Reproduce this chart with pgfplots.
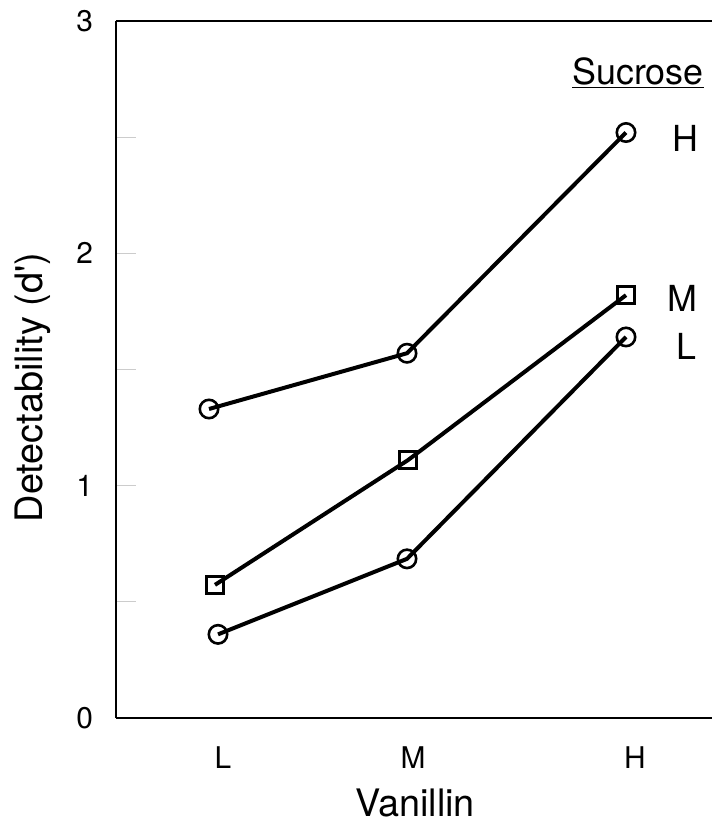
\documentclass[border=0pt]{standalone}
\usepackage{fontspec}
\setmainfont{TeX Gyre Heros}
\usepackage{pgfplots}
\pgfplotsset{compat=1.18}
\begin{document}
\fontsize{14.5}{17}\selectfont
\begin{tikzpicture}
\begin{axis}[
  scale only axis, width=298bp, height=348.5bp,
  xmin=116, xmax=712, ymin=0, ymax=3,
  axis lines=left,
  axis line style={-, line width=1.2bp, black},
  clip=false,
  /pgf/number format/assume math mode=true,
  ytick={0,1,2,3}, minor ytick={0.5,1.5,2.5},
  ytick align=inside,
  major tick length=10bp, minor tick length=10bp,
  ytick style={draw=black!20, line width=0.6bp},
  minor tick style={draw=black!20, line width=0.6bp},
  xtick={223,413,635}, xticklabels={L,M,H},
  xtick style={draw=none},
  tick label style={font=\fontsize{15}{18}\selectfont},
  yticklabel style={xshift=-6.5bp},
  xticklabel style={yshift=-4.5bp},
  xlabel={Vanillin}, ylabel={Detectability (d\textquotesingle)},
  label style={font=\fontsize{19}{22}\selectfont},
  xlabel style={at={(axis description cs:0.5017,-0.122)}, anchor=center},
  ylabel style={at={(axis description cs:-0.139,0.474)}, anchor=center},
  every axis plot/.append style={black, line width=2bp, mark options={solid, fill=white, line width=1.3bp}},
]
\coordinate (ll) at (rel axis cs:0,0);
\draw[line width=1.2bp] (rel axis cs:0,1) -- (rel axis cs:1,1);
\addplot[mark=o, mark size=4.6bp] coordinates {(209,1.33) (407,1.57) (626,2.52)};
\addplot[mark=square, mark size=4.25bp] coordinates {(215,0.573) (408,1.11) (626,1.82)};
\addplot[mark=o, mark size=4.6bp] coordinates {(218,0.36) (407,0.685) (626,1.64)};
\begin{scope}[every node/.style={font=\fontsize{18}{21}\selectfont, anchor=base}]
\node at (axis cs:638,2.728) {\underline{Sucrose}};
\node at (axis cs:685,2.44) {H};
\node at (axis cs:682,1.75) {M};
\node at (axis cs:686,1.543) {L};
\end{scope}
\end{axis}
\pgfresetboundingbox
\path (ll) ++(-58bp,-53bp) rectangle ++(356bp,412bp);
\end{tikzpicture}
\end{document}
